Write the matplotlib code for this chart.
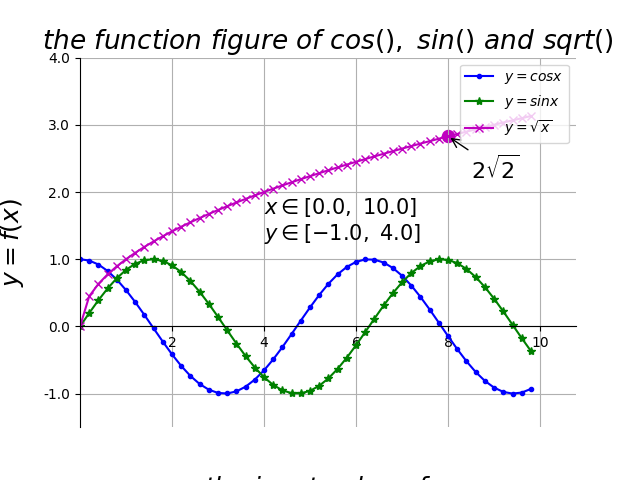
import matplotlib
matplotlib.use('Agg')
import matplotlib.pyplot as plt
import numpy as np

# sample points (step 0.2 from 0 to 9.8)
x = np.arange(0, 10, 0.2)
y_cos = np.cos(x)
y_sin = np.sin(x)
y_sqrt = np.sqrt(x)

mark_x = [8.0]
mark_y = [2 * np.sqrt(2)]
yticks = [-1.0, 0.0, 1.0, 2.0, 3.0, 4.0]
xticks = [2, 4, 6, 8, 10]

fig = plt.figure(figsize=(6.4, 4.8), dpi=100)
ax = fig.add_subplot(111)

ax.plot(x, y_cos, 'b-', marker='.', label='$y = cos x$')
ax.plot(x, y_sin, 'g-', marker='*', label='$y = sin x$')
ax.plot(x, y_sqrt, 'm-', marker='x', label='$y = \\sqrt{x}$')
ax.scatter(mark_x, mark_y, s=75, color='m')

ax.annotate(r'$2\sqrt{2}$', xy=(mark_x[0], mark_y[0]), xytext=(8.5, 2.2),
            fontsize=16, arrowprops=dict(arrowstyle='->'))
ax.text(4, 1.28, '$x \\in [0.0,\\ 10.0]$\n$y \\in [-1.0,\\ 4.0]$', fontsize=15)

# move axes to the origin
ax.spines['right'].set_color('none')
ax.spines['top'].set_color('none')
ax.spines['left'].set_position(('data', 0))
ax.spines['bottom'].set_position(('data', 0))

ax.set_xlim(x.min(), x.max() * 1.1)
ax.set_ylim(-1.5, 4.0)
ax.set_xticks(xticks)
ax.set_yticks(yticks)
ax.set_yticklabels(['%1.1f' % v for v in yticks])
ax.grid(True)

ax.set_title('$the\\ function\\ figure\\ of\\ cos(),\\ sin()\\ and\\ sqrt()$', fontsize=19)
ax.set_xlabel('$the\\ input\\ value\\ of\\ x$', fontsize=18)
ax.set_ylabel('$y = f(x)$', fontsize=18)
ax.xaxis.set_label_coords(0.5, -0.127)
ax.yaxis.set_label_coords(-0.109, 0.5)
ax.legend(loc='upper right')

plt.savefig('out.png')
